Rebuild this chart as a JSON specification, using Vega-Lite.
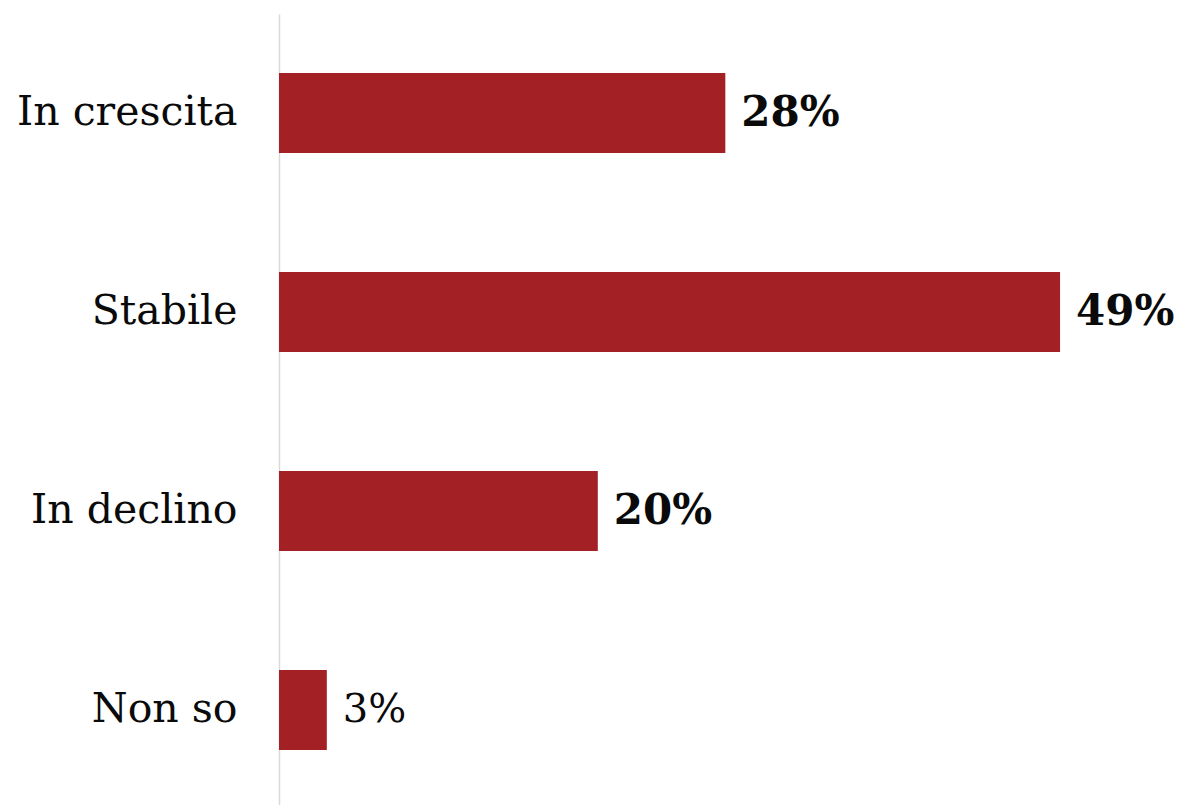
{
  "$schema": "https://vega.github.io/schema/vega-lite/v6.json",
  "autosize": "none",
  "width": 797,
  "height": 795,
  "padding": {"left": 279, "top": 14, "right": 109, "bottom": 0},
  "background": "white",
  "config": {"view": {"stroke": null}},
  "data": {"values": [
    {"cat": "In crescita", "value": 28, "label": "28%"},
    {"cat": "Stabile", "value": 49, "label": "49%"},
    {"cat": "In declino", "value": 20, "label": "20%"},
    {"cat": "Non so", "value": 3, "label": "3%"}
  ]},
  "encoding": {
    "y": {"field": "cat", "type": "nominal", "sort": null,
      "scale": {"paddingInner": 0.598, "paddingOuter": 0.296},
      "axis": {"title": null, "ticks": false, "domain": true, "domainColor": "#d9d9d9", "domainWidth": 1.5,
        "labelFont": "DejaVu Serif", "labelFontSize": 41, "labelColor": "#0a0a0a", "labelPadding": 42, "labelLimit": 400}},
    "x": {"field": "value", "type": "quantitative", "scale": {"domain": [0, 50]}, "axis": null}
  },
  "layer": [
    {"mark": {"type": "bar", "color": "#a32024"}},
    {"transform": [{"filter": "datum.value > 5"}],
      "mark": {"type": "text", "align": "left", "baseline": "middle", "dx": 16, "font": "DejaVu Serif", "fontSize": 42, "fontWeight": "bold", "color": "#0a0a0a"},
      "encoding": {"text": {"field": "label"}}},
    {"transform": [{"filter": "datum.value <= 5"}],
      "mark": {"type": "text", "align": "left", "baseline": "middle", "dx": 16, "font": "DejaVu Serif", "fontSize": 40, "color": "#0a0a0a"},
      "encoding": {"text": {"field": "label"}}}
  ]
}
